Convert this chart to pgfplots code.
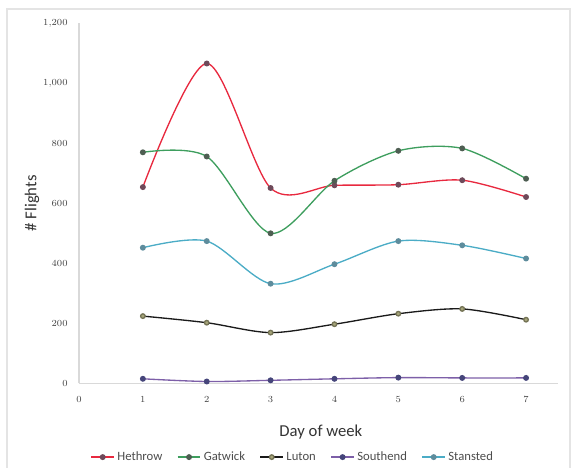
\documentclass[border=0pt]{standalone}
\usepackage{pgfplots}
\pgfplotsset{compat=1.18}
\usepackage{fontspec}
\setmainfont{Carlito}

\definecolor{hethrow}{HTML}{E8293F}
\definecolor{gatwick}{HTML}{3E9E5E}
\definecolor{luton}{HTML}{1A1A1A}
\definecolor{southend}{HTML}{7D5FA8}
\definecolor{stansted}{HTML}{4BACC6}
\definecolor{mkhet}{HTML}{6E4A5A}
\definecolor{mkgat}{HTML}{4E5E52}
\definecolor{mklut}{HTML}{A6A57A}
\definecolor{mksou}{HTML}{45457A}
\definecolor{mksta}{HTML}{5E8C9C}
\definecolor{frame}{HTML}{E4E4E4}
\definecolor{axisgray}{HTML}{D9D9D9}

\begin{document}
\begin{tikzpicture}[x=0.75pt,y=0.75pt]
% page area
\path (0,0) rectangle (573,468);
% chart frame
\draw[frame, line width=1.2pt] (7,0) -- (7,459) -- (570,459) -- (570,0);
\begin{axis}[
  at={(79pt*0.75,84.7pt*0.75)}, anchor=south west,
  scale only axis, width=359.25pt, height=270pt,
  xmin=0, xmax=7.5, ymin=0, ymax=1200,
  xtick={0,...,7}, ytick={0,200,...,1200},
  axis lines=left,
  axis line style={-, draw=axisgray, line width=0.8pt},
  major tick length=0pt,
  tick label style={font=\fontsize{7.5}{9}\selectfont, text=black!75},
  xticklabel style={yshift=-6pt},
  yticklabel style={xshift=-5pt},
  xlabel={Day of week},
  ylabel={\# Flights},
  label style={font=\fontsize{12.5}{14}\selectfont, text=black!80},
  xlabel style={at={(axis description cs:0.505,-0.135)}, anchor=center},
  ylabel style={at={(axis description cs:-0.098,0.5)}, anchor=center, rotate=0},
  clip=false,
  legend columns=5,
  legend style={draw=none, fill=none, at={(axis description cs:0.447,-0.205)}, anchor=center,
    font=\fontsize{9.5}{11}\selectfont, text=black!70,
    /tikz/every even column/.append style={column sep=9pt}},
  every axis plot/.append style={smooth, tension=0.5, line width=1.0pt,
    mark=*, mark size=1.7pt, mark options={line width=0.4pt}},
]
\addplot[hethrow, mark options={fill=mkhet, draw=mkhet}] coordinates {
  (1,654) (2,1066) (3,651) (4,660) (5,662) (6,677) (7,621)};
\addlegendentry{Hethrow}
\addplot[gatwick, mark options={fill=mkgat, draw=mkgat}] coordinates {
  (1,770) (2,756) (3,500) (4,675) (5,775) (6,783) (7,682)};
\addlegendentry{Gatwick}
\addplot[luton, mark options={fill=mklut, draw=mklut!70!black}] coordinates {
  (1,224) (2,202) (3,169) (4,197) (5,232) (6,248) (7,212)};
\addlegendentry{Luton}
\addplot[southend, mark options={fill=mksou, draw=mksou}] coordinates {
  (1,15) (2,6) (3,10) (4,15) (5,19) (6,18) (7,18)};
\addlegendentry{Southend}
\addplot[stansted, mark options={fill=mksta, draw=mksta}] coordinates {
  (1,452) (2,474) (3,332) (4,397) (5,474) (6,460) (7,416)};
\addlegendentry{Stansted}
\end{axis}
\end{tikzpicture}
\end{document}
